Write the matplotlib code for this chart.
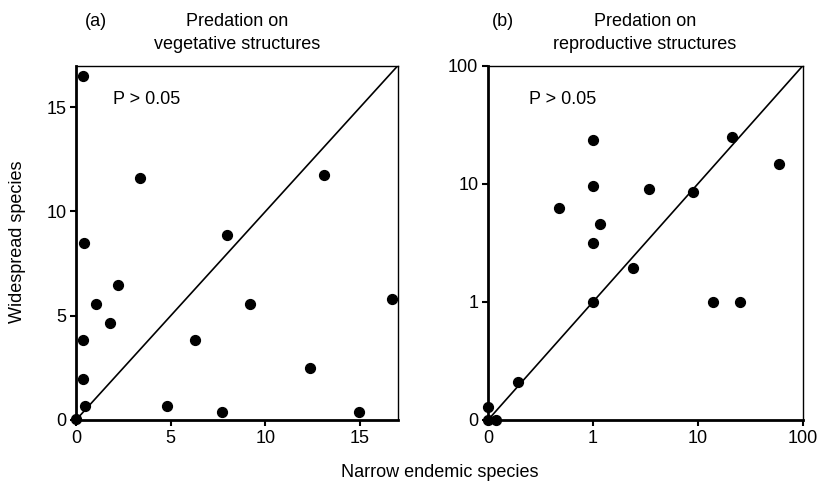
import numpy as np
import matplotlib
matplotlib.use("Agg")
import matplotlib.pyplot as plt
from matplotlib.ticker import FixedLocator, FixedFormatter

plt.rcParams['font.family'] = ['Liberation Sans', 'DejaVu Sans']

# Panel (a): predation on vegetative structures
veg_narrow = [0.38, 3.38, 0.44, 7.98, 2.23, 1.07, 1.79, 0.35, 6.26, 0.35, 0.47,
              0.0, 4.83, 7.72, 13.07, 9.16, 16.67, 12.33, 14.95]
veg_wide = [16.5, 11.6, 8.5, 8.86, 6.47, 5.56, 4.63, 3.85, 3.85, 1.99, 0.67,
            0.05, 0.67, 0.38, 11.75, 5.56, 5.82, 2.51, 0.40]

# Panel (b): predation on reproductive structures
rep_narrow = [1.0, 1.0, 0.47, 1.17, 1.0, 3.44, 9.0, 2.42, 1.0, 13.8, 25.2,
              21.1, 58.6, 0.195, 0.0, 0.12, 0.0]
rep_wide = [23.4, 9.5, 6.25, 4.55, 3.13, 9.0, 8.57, 1.93, 1.0, 1.0, 1.0,
            24.7, 14.6, 0.21, 0.13, 0.0, 0.0]

lin_ticks = [0, 5, 10, 15]
log_ticks = [0, 1, 10, 100]
log_labels = ['0', '1', '10', '100']


def fwd(v):
    v = np.asarray(v, dtype=float)
    return np.log10(np.maximum(v, 0.1))


def inv(u):
    return np.power(10.0, np.asarray(u, dtype=float))


fig = plt.figure(figsize=(8.25, 4.86), dpi=100)
ax1 = fig.add_axes([76/825, 1-420/486, (398-76)/825, (420-65.5)/486])
ax2 = fig.add_axes([488/825, 1-420/486, (803-488)/825, (420-65.5)/486])

for ax in (ax1, ax2):
    for s in ('left', 'bottom'):
        ax.spines[s].set_linewidth(2.0)
    for s in ('top', 'right'):
        ax.spines[s].set_linewidth(1.0)
    ax.tick_params(direction='out', length=4, width=1.5, labelsize=13,
                   colors='black', pad=3)
    for s in ax.spines.values():
        s.set_color('black')

# Panel (a)
ax1.plot([0, 17], [0, 17], color='black', lw=1.2, zorder=2)
ax1.scatter(veg_narrow, veg_wide, s=50, color='black', zorder=3, clip_on=False)
ax1.set_xlim(0, 17)
ax1.set_ylim(0, 17)
ax1.set_xticks(lin_ticks)
ax1.set_yticks(lin_ticks)
ax1.text(0.115, 0.905, 'P > 0.05', transform=ax1.transAxes, fontsize=13,
         va='center', ha='left')

# Panel (b)
ax2.set_xscale('function', functions=(fwd, inv))
ax2.set_yscale('function', functions=(fwd, inv))
ax2.plot([0, 100], [0, 100], color='black', lw=1.2, zorder=2)
ax2.scatter(rep_narrow, rep_wide, s=50, color='black', zorder=3, clip_on=False)
ax2.set_xlim(0, 100)
ax2.set_ylim(0, 100)
for axis in (ax2.xaxis, ax2.yaxis):
    axis.set_major_locator(FixedLocator(log_ticks))
    axis.set_major_formatter(FixedFormatter(log_labels))
    axis.set_minor_locator(FixedLocator([]))
ax2.text(0.13, 0.905, 'P > 0.05', transform=ax2.transAxes, fontsize=13,
         va='center', ha='left')

# Titles and panel letters
fig.text(96/825, 1-22/486, '(a)', fontsize=13, ha='center', va='center')
fig.text(237/825, 1-33/486, 'Predation on\nvegetative structures', fontsize=13,
         ha='center', va='center', linespacing=1.4)
fig.text(503/825, 1-22/486, '(b)', fontsize=13, ha='center', va='center')
fig.text(645/825, 1-33/486, 'Predation on\nreproductive structures', fontsize=13,
         ha='center', va='center', linespacing=1.4)

fig.text(18/825, 1-242/486, 'Widespread species', fontsize=13, rotation=90,
         ha='center', va='center')
fig.text(440/825, 1-472/486, 'Narrow endemic species', fontsize=13,
         ha='center', va='center')

fig.savefig('out.png', dpi=100)
